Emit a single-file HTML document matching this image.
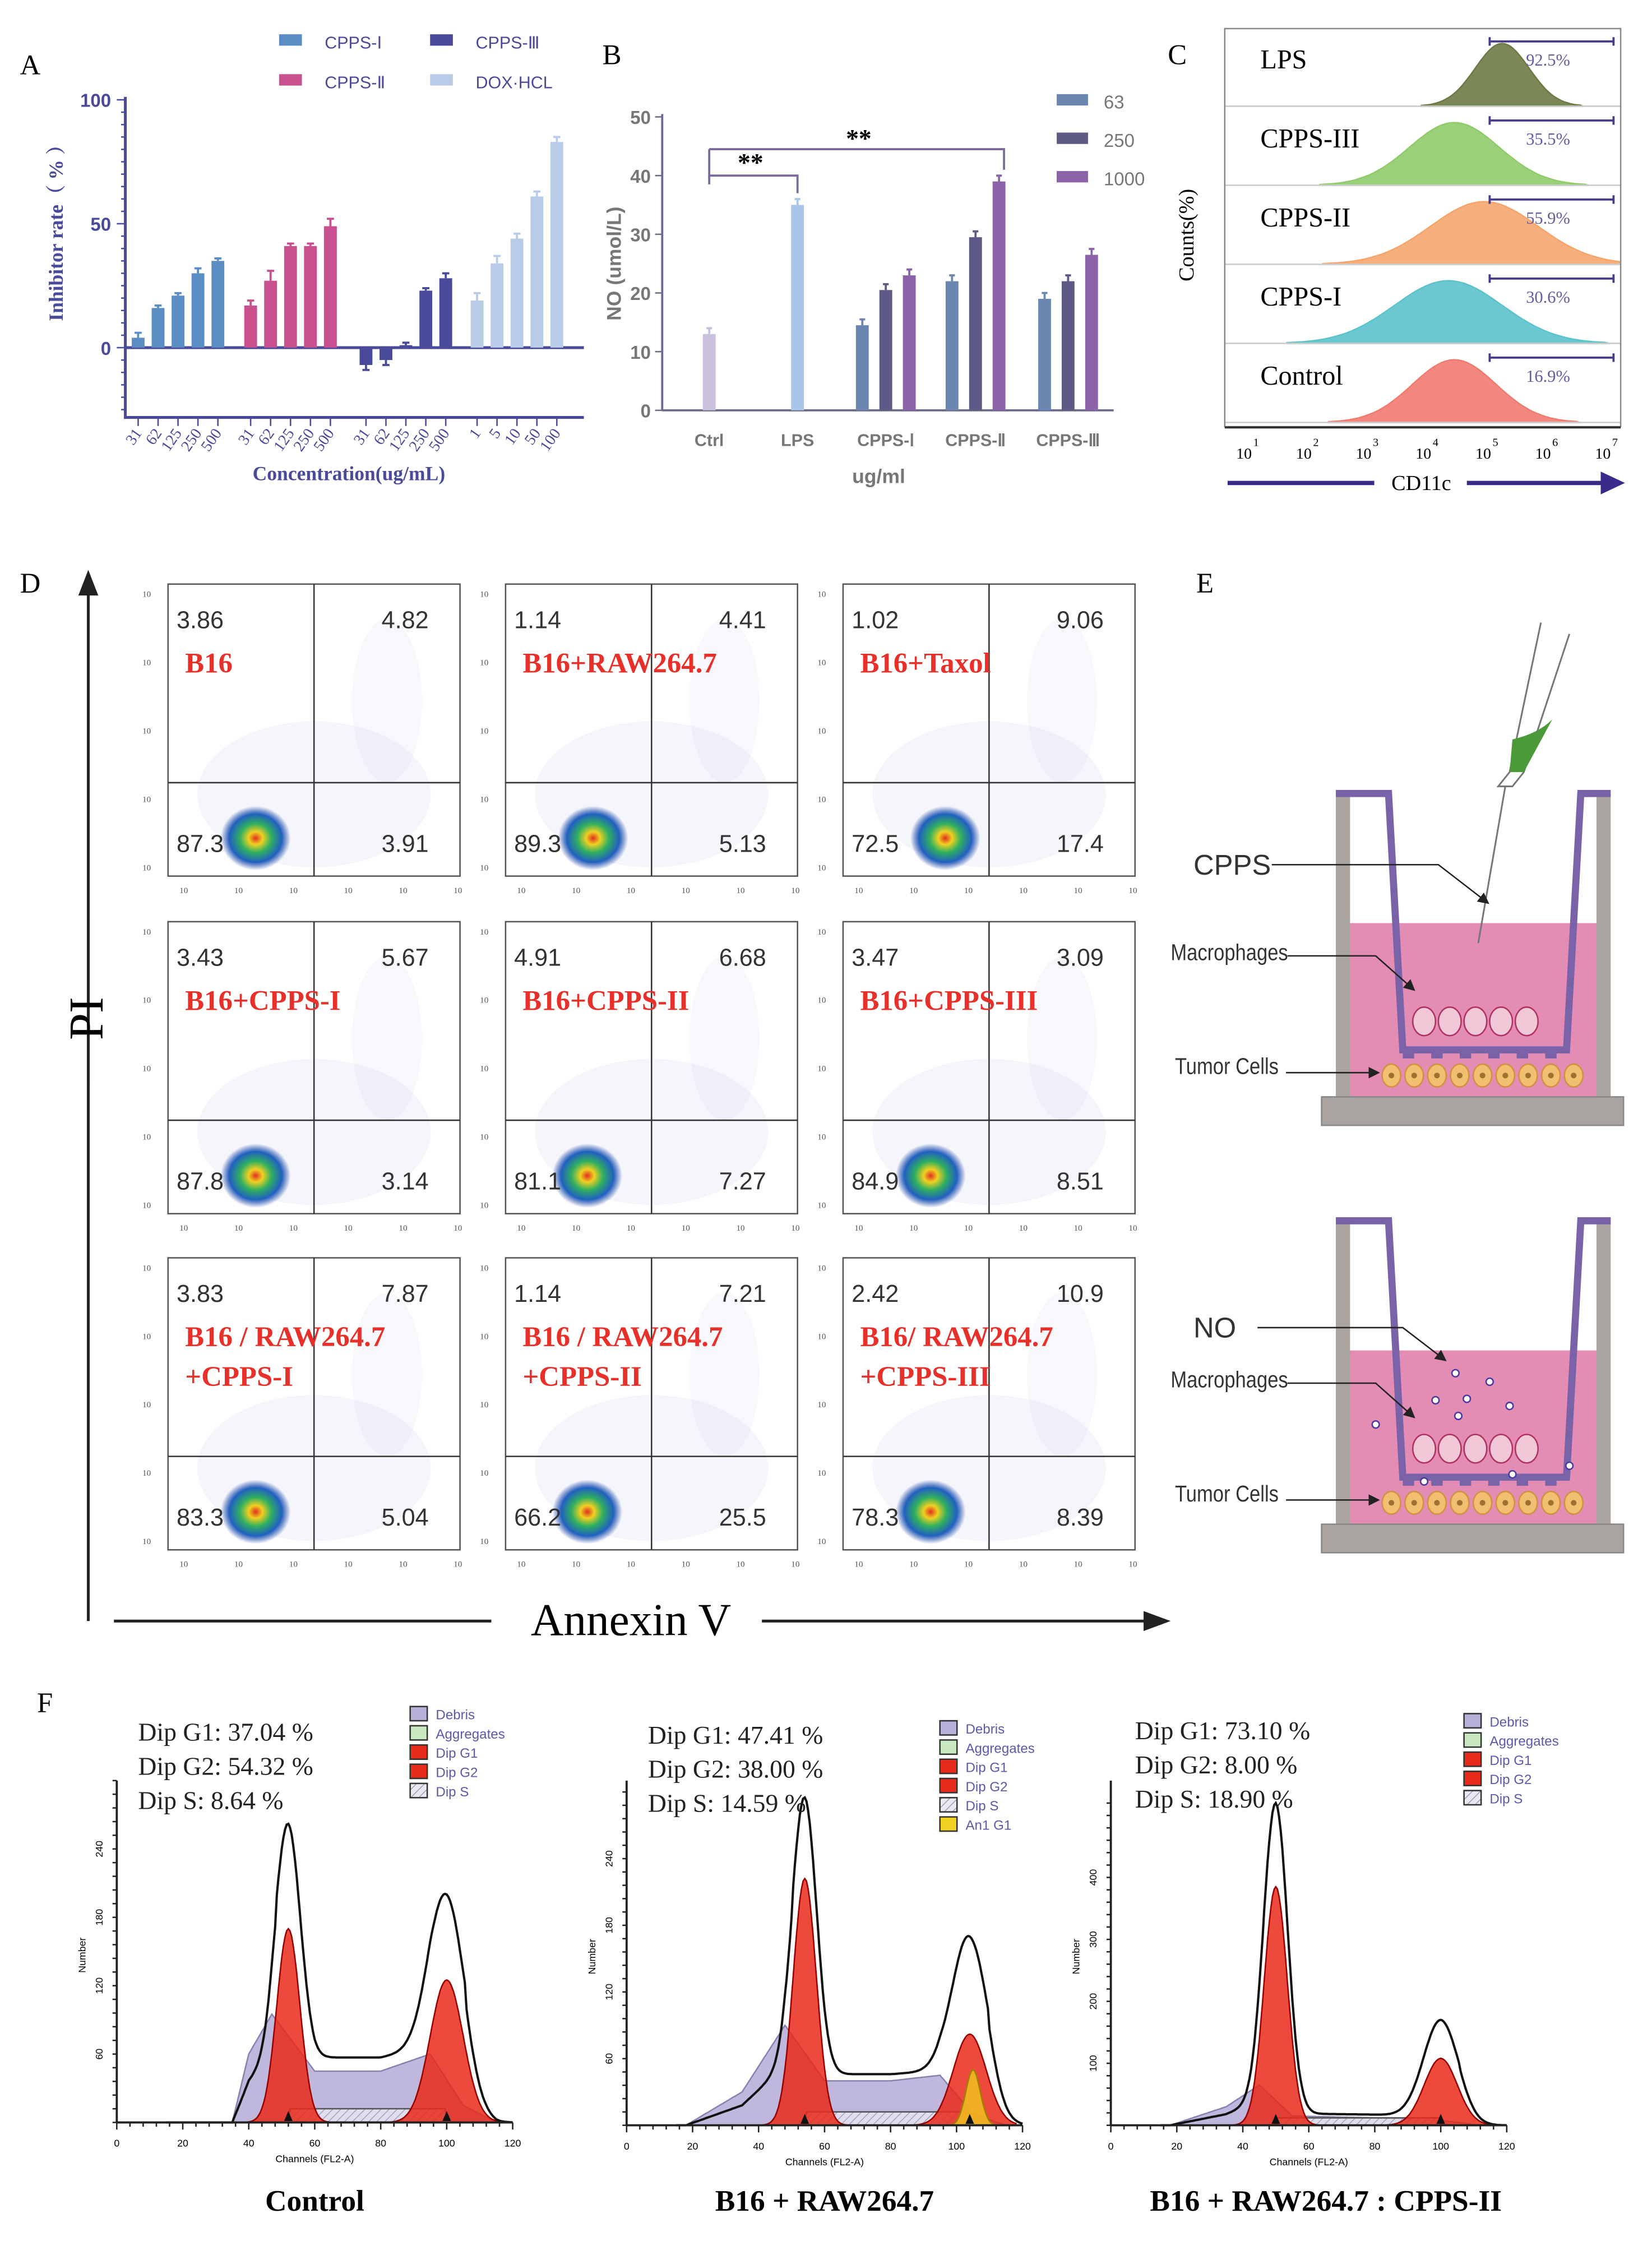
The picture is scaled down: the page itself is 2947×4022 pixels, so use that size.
<!DOCTYPE html>
<html><head><meta charset="utf-8"><style>
html,body{margin:0;padding:0;background:#fff}
svg{display:block}
text{font-family:"Liberation Serif",serif}
.sans{font-family:"Liberation Sans",sans-serif}
</style></head><body>
<svg id="fig" xmlns="http://www.w3.org/2000/svg" width="2947" height="4022" viewBox="0 0 1160 1583">
<defs>
<radialGradient id="blob" cx="50%" cy="50%" r="50%">
<stop offset="0" stop-color="#e03020"/><stop offset="0.2" stop-color="#f0d020"/><stop offset="0.45" stop-color="#30b060"/><stop offset="0.75" stop-color="#2060c0"/><stop offset="1" stop-color="#2040a0" stop-opacity="0"/>
</radialGradient>
<pattern id="hatch" width="4" height="4" patternUnits="userSpaceOnUse" patternTransform="rotate(45)"><rect width="4" height="4" fill="#e8e8f0"/><line x1="0" y1="0" x2="0" y2="4" stroke="#9090b0" stroke-width="1"/></pattern>
<marker id="arr" markerWidth="8" markerHeight="8" refX="7" refY="4" orient="auto"><path d="M0,0 L8,4 L0,8 z" fill="#222"/></marker>
<clipPath id="cclip"><rect x="860" y="20" width="278" height="280"/></clipPath>
</defs>
</svg>
<script>
const NS="http://www.w3.org/2000/svg";
const svg=document.getElementById('fig');
function mk(tag,attrs,parent){const e=document.createElementNS(NS,tag);for(const k in attrs)e.setAttribute(k,attrs[k]);(parent||svg).appendChild(e);return e;}
function tx(x,y,s,attrs,parent){const e=mk('text',Object.assign({x:x,y:y},attrs),parent);e.textContent=s;return e;}

/* ===== Panel A data ===== */
const aGroups=["CPPS-Ⅰ","CPPS-Ⅱ","CPPS-Ⅲ","DOX·HCL"];
const aColors=["#5b8cc4","#c9508f","#4a4a9a","#b8cce8"];
const aCpps1=[4,16,21,30,35];
const aCpps2=[17,27,41,41,49];
const aCpps3=[-7,-5,1,23,28];
const aDox=[19,34,44,61,83];
const aErr=[[2,1,1,2,1],[2,4,1,1,3],[2,2,1,1,2],[3,3,2,2,2]];
const aTicksCpps=["31","62","125","250","500"];
const aTicksDox=["1","5","10","50","100"];
const aYTicks=[0,50,100];
/* ===== Panel B data ===== */
const bCats=["Ctrl","LPS","CPPS-Ⅰ","CPPS-Ⅱ","CPPS-Ⅲ"];
const bCtrl=[13];
const bLps=[35];
const b63=[14.5,22,19];
const b250=[20.5,29.5,22];
const b1000=[23,39,26.5];
const bYTicks=[0,10,20,30,40,50];
const bSeries=["63","250","1000"];
/* ===== Panel C data ===== */
const cLabels=["LPS","CPPS-III","CPPS-II","CPPS-I","Control"];
const cPerc=["92.5%","35.5%","55.9%","30.6%","16.9%"];
const cPeak=[5.4,4.6,5.1,4.5,4.6];
const cWidth=[0.45,0.75,0.9,0.9,0.7];
/* ===== Panel D data ===== */
const dLabels=[["B16"],["B16+RAW264.7"],["B16+Taxol"],["B16+CPPS-I"],["B16+CPPS-II"],["B16+CPPS-III"],["B16 / RAW264.7","+CPPS-I"],["B16 / RAW264.7","+CPPS-II"],["B16/ RAW264.7","+CPPS-III"]];
const dUL=["3.86","1.14","1.02","3.43","4.91","3.47","3.83","1.14","2.42"];
const dUR=["4.82","4.41","9.06","5.67","6.68","3.09","7.87","7.21","10.9"];
const dLL=["87.3","89.3","72.5","87.8","81.1","84.9","83.3","66.2","78.3"];
const dLR=["3.91","5.13","17.4","3.14","7.27","8.51","5.04","25.5","8.39"];
/* ===== Panel F data ===== */
const fTitles=["Control","B16 + RAW264.7","B16 + RAW264.7 : CPPS-II"];
const fG1=["37.04","47.41","73.10"];
const fG2=["54.32","38.00","8.00"];
const fS=["8.64","14.59","18.90"];
const fG1H=[170,222,385];
const fG2H=[125,82,108];
const fTotG1=[262,295,520];
const fTotG2=[200,170,170];
const fDebris=[[[35,0],[40,60],[47,95],[60,45],[80,45],[95,60],[105,15],[115,0]],[[18,0],[35,30],[48,90],[60,40],[80,40],[95,45],[105,10],[115,0]],[[18,0],[35,30],[45,65],[55,15],[80,12],[100,8],[112,0]]];
const fYTicks=[[60,120,180,240],[60,120,180,240],[100,200,300,400]];
const fYMax=[300,300,520];

/* ===== Panel A ===== */
(function(){
const g=mk('g',{});
const L=tx(14,52,"A",{'font-size':20},g);
const y0=244,ppu=1.74,ax=88;
const Y=v=>y0-v*ppu;
mk('line',{x1:ax,y1:68,x2:ax,y2:294,stroke:'#4a4a9a','stroke-width':2},g);
for(let v=-25;v<=100;v+=5){mk('line',{x1:ax-(v%50==0?6:3),y1:Y(v),x2:ax,y2:Y(v),stroke:'#4a4a9a','stroke-width':1},g);}
aYTicks.forEach(v=>{const t=tx(ax-10,Y(v)+5,String(v),{'font-size':13,'text-anchor':'end',fill:'#4a4a9a','font-weight':'bold',class:'sans'},g);});
mk('line',{x1:ax,y1:y0,x2:410,y2:y0,stroke:'#4a4a9a','stroke-width':2},g);
mk('line',{x1:ax,y1:293,x2:410,y2:293,stroke:'#4a4a9a','stroke-width':2},g);
const series=[aCpps1,aCpps2,aCpps3,aDox];
const starts=[97,176,257,335];
series.forEach((arr,si)=>{arr.forEach((v,i)=>{const cx=starts[si]+i*14;
const r=mk('rect',{x:cx-4.5,y:Math.min(Y(v),y0),width:9,height:Math.abs(Y(v)-y0),fill:aColors[si]},g);

const ey=v>=0?Y(v+aErr[si][i]):Y(v-aErr[si][i]);
mk('line',{x1:cx,y1:Y(v),x2:cx,y2:ey,stroke:aColors[si],'stroke-width':1.5},g);
mk('line',{x1:cx-2.5,y1:ey,x2:cx+2.5,y2:ey,stroke:aColors[si],'stroke-width':1.5},g);
mk('line',{x1:cx,y1:293,x2:cx,y2:299,stroke:'#4a4a9a','stroke-width':1},g);
const lbl=(si==3?aTicksDox:aTicksCpps)[i];
const t=tx(cx+3,304,lbl,{'font-size':11,'text-anchor':'end',fill:'#4a4a9a',transform:`rotate(-55 ${cx+3} 304)`},g);
});});
const yl=tx(44,160,"Inhibitor rate（ % ）",{'font-size':14,'font-weight':'bold',fill:'#4a4a9a','text-anchor':'middle',transform:'rotate(-90 44 160)',style:'font-family:"Liberation Serif","Noto Serif CJK SC",serif'},g);
const xl=tx(245,337,"Concentration(ug/mL)",{'font-size':14,'font-weight':'bold',fill:'#4a4a9a','text-anchor':'middle'},g);
const lp=[[196,30],[196,58],[302,30],[302,58]];const ln=["CPPS-Ⅰ","CPPS-Ⅱ","CPPS-Ⅲ","DOX·HCL"];const lc=[aColors[0],aColors[1],aColors[2],aColors[3]];
lp.forEach((p,i)=>{const e=mk('rect',{x:p[0],y:p[1]-6,width:16,height:8,fill:lc[i]},g);
const t=tx(p[0]+32,p[1]+4,ln[i],{'font-size':12,fill:'#4a4a9a',class:'sans'},g);});
})();

/* ===== Panel B ===== */
(function(){
const g=mk('g',{});
const L=tx(423,45,"B",{'font-size':20},g);
const y0=288,ppu=4.12,ax=465;const Y=v=>y0-v*ppu;
mk('line',{x1:ax,y1:80,x2:ax,y2:y0,stroke:'#6a6a8a','stroke-width':1.5},g);
mk('line',{x1:ax,y1:y0,x2:782,y2:y0,stroke:'#6a6a8a','stroke-width':1.5},g);
bYTicks.forEach(v=>{mk('line',{x1:ax-5,y1:Y(v),x2:ax,y2:Y(v),stroke:'#6a6a8a'},g);const t=tx(ax-8,Y(v)+5,String(v),{'font-size':13,'text-anchor':'end',fill:'#777',class:'sans','font-weight':'bold'},g);});
const centers=[498,560,622,685,750];
bCats.forEach((c,i)=>{const t=tx(centers[i],313,c,{'font-size':12,'text-anchor':'middle',fill:'#777',class:'sans','font-weight':'bold'},g);});
function bar(cx,v,col,name){const r=mk('rect',{x:cx-4.5,y:Y(v),width:9,height:y0-Y(v),fill:col},g);mk('line',{x1:cx,y1:Y(v),x2:cx,y2:Y(v+1),stroke:col,'stroke-width':1.5},g);mk('line',{x1:cx-2,y1:Y(v+1),x2:cx+2,y2:Y(v+1),stroke:col,'stroke-width':1.5},g);}
bar(centers[0],bCtrl[0],'#c9c0dc','b-bar-ctrl');
bar(centers[1],bLps[0],'#a9c6e8','b-bar-lps');
const sc=['#6b86b0','#5d5a85','#8c63a8'];
[b63,b250,b1000].forEach((arr,si)=>arr.forEach((v,i)=>bar(centers[i+2]+(si-1)*16.5,v,sc[si],'b-bar-'+bSeries[si]+'-'+i)));
mk('path',{d:`M498,${Y(40)} V${Y(39.5)} M498,${Y(40)} H560 V${Y(37)}`,fill:'none',stroke:'#7a6a9a','stroke-width':1.5},g);
mk('path',{d:`M498,${Y(44.5)} H705 V${Y(41)}`,fill:'none',stroke:'#7a6a9a','stroke-width':1.5},g);
mk('line',{x1:498,y1:Y(44.5),x2:498,y2:Y(38.5),stroke:'#7a6a9a','stroke-width':1.5},g);
const s1=tx(527,120,"**",{'font-size':18,'text-anchor':'middle','font-weight':'bold'},g);
const s2=tx(603,103,"**",{'font-size':18,'text-anchor':'middle','font-weight':'bold'},g);
const yl=tx(436,185,"NO (umol/L)",{'font-size':14,'text-anchor':'middle',fill:'#777',class:'sans','font-weight':'bold',transform:'rotate(-90 436 185)'},g);
const xl=tx(617,339,"ug/ml",{'font-size':14,'text-anchor':'middle',fill:'#777',class:'sans','font-weight':'bold'},g);
bSeries.forEach((s,i)=>{const r=mk('rect',{x:742,y:66+i*27,width:22,height:8,fill:sc[i]},g);const t=tx(775,76+i*27,s,{'font-size':13,fill:'#777',class:'sans'},g);});
})();

/* ===== Panel C ===== */
(function(){
const g=mk('g',{});
const L=tx(820,45,"C",{'font-size':20},g);
const x0=860,x1=1138,top=22,rowH=55.5;
const cols=['#6b7a45','#8fcb6a','#f5a56c','#5bc2cc','#ef7a70'];
const X=lg=>x0+10+(lg-1)*((1125-873)/6);
const hg=mk('g',{'clip-path':'url(#cclip)'},g);
cLabels.forEach((lab,i)=>{const ry=top+i*rowH,base=ry+rowH-3;
mk('line',{x1:x0,y1:base,x2:x1,y2:base,stroke:'#ccc','stroke-width':1},g);
let d=`M${X(cPeak[i]-3*cWidth[i])},${base}`;
for(let k=-3;k<=3;k+=0.1){const lg=cPeak[i]+k*cWidth[i];d+=` L${X(lg).toFixed(1)},${(base-44*Math.exp(-k*k/2)).toFixed(1)}`;}
d+=` L${X(cPeak[i]+3*cWidth[i])},${base} Z`;
const p=mk('path',{d:d,fill:cols[i],stroke:cols[i],'fill-opacity':0.9},hg);
const t=tx(885,ry+26,lab,{'font-size':19},g);
mk('path',{d:`M1046,${ry+4} v6 M1046,${ry+7} H1133 M1133,${ry+4} v6`,stroke:'#4a3a8a','stroke-width':1.5,fill:'none'},g);
const pt=tx(1087,ry+24,cPerc[i],{'font-size':12,fill:'#6a5aa0','text-anchor':'middle'},g);
});
mk('rect',{x:x0,y:top-2,width:x1-x0,height:rowH*5+2,fill:'none',stroke:'#888','stroke-width':1},g);
mk('line',{x1:x0,y1:300,x2:x1,y2:300,stroke:'#333','stroke-width':1.5},g);
for(let k=1;k<=7;k++){const t=tx(X(k)-2,322,"10",{'font-size':11},g);tx(X(k)+10,313,String(k),{'font-size':8},g);}
mk('line',{x1:862,y1:339,x2:965,y2:339,stroke:'#3a2a8a','stroke-width':3},g);
mk('line',{x1:1030,y1:339,x2:1128,y2:339,stroke:'#3a2a8a','stroke-width':3},g);
mk('path',{d:'M1124,331 L1141,339 L1124,347 Z',fill:'#3a2a8a'},g);
const xl=tx(998,344,"CD11c",{'font-size':15,'text-anchor':'middle'},g);
const yl=tx(838,165,"Counts(%)",{'font-size':15,'text-anchor':'middle',transform:'rotate(-90 838 165)'},g);
})();

/* ===== Panel D ===== */
(function(){
const g=mk('g',{});
const L=tx(14,416,"D",{'font-size':20},g);
mk('line',{x1:62,y1:1138,x2:62,y2:645,stroke:'#222','stroke-width':2},g);
mk('line',{x1:62,y1:760,x2:62,y2:415,stroke:'#222','stroke-width':2},g);
mk('path',{d:'M55,418 L62,400 L69,418 Z',fill:'#222'},g);
const pi=tx(72,715,"PI",{'font-size':34,'text-anchor':'middle',transform:'rotate(-90 72 715)'},g);
mk('line',{x1:80,y1:1138,x2:345,y2:1138,stroke:'#222','stroke-width':2},g);
mk('line',{x1:535,y1:1138,x2:805,y2:1138,stroke:'#222','stroke-width':2},g);
mk('path',{d:'M803,1131 L822,1138 L803,1145 Z',fill:'#222'},g);
const an=tx(443,1148,"Annexin V",{'font-size':32,'text-anchor':'middle'},g);
const colX=[118,355,592],rowY=[410,647,883],W=205,H=205;
const blobX=[0.3,0.3,0.35,0.3,0.28,0.3,0.3,0.28,0.3];
for(let i=0;i<9;i++){const x=colX[i%3],y=rowY[Math.floor(i/3)];
const pg=mk('g',{},g);
mk('rect',{x:x,y:y,width:W,height:H,fill:'#fff',stroke:'#555','stroke-width':1},pg);
mk('ellipse',{cx:x+W*0.5,cy:y+H*0.72,rx:W*0.4,ry:H*0.25,fill:'#c8cce8','fill-opacity':0.18},pg);
mk('ellipse',{cx:x+W*0.75,cy:y+H*0.4,rx:W*0.12,ry:H*0.28,fill:'#c8cce8','fill-opacity':0.15},pg);
mk('ellipse',{cx:x+W*blobX[i],cy:y+H*0.87,rx:W*0.12,ry:H*0.11,fill:'url(#blob)'},pg);
mk('line',{x1:x+W*0.5,y1:y,x2:x+W*0.5,y2:y+H,stroke:'#333','stroke-width':1},pg);
mk('line',{x1:x,y1:y+H*0.68,x2:x+W,y2:y+H*0.68,stroke:'#333','stroke-width':1},pg);
const ns=[[x+6,y+31,dUL[i],'start'],[x+W-22,y+31,dUR[i],'end'],[x+6,y+188,dLL[i],'start'],[x+W-22,y+188,dLR[i],'end']];
ns.forEach(n=>{const t=tx(n[0],n[1],n[2],{'font-size':17,'text-anchor':n[3],fill:'#333',class:'sans'},pg);});
dLabels[i].forEach((s,k)=>{const t=tx(x+12,y+62+k*28,s,{'font-size':20,'font-weight':'bold',fill:'#e8302a'},pg);});
for(let k=0;k<=5;k++){tx(x+8+k*38.5,y+H+12,"10",{'font-size':6,fill:'#555'},pg);}
for(let k=0;k<=4;k++){tx(x-18,y+H-4-k*48,"10",{'font-size':6,fill:'#555'},pg);}
}
})();

/* ===== Panel E ===== */
(function(){
const g=mk('g',{});
const L=tx(840,416,"E",{'font-size':20},g);
function well(oy,name,isNO){const w=mk('g',{},g);
mk('rect',{x:940,y:oy+91,width:190,height:122,fill:'#e38cb4'},w);
mk('rect',{x:938,y:oy,width:10,height:214,fill:'#a9a4a0'},w);
mk('rect',{x:1121,y:oy,width:10,height:214,fill:'#a9a4a0'},w);
mk('rect',{x:928,y:oy+213,width:212,height:20,fill:'#a9a4a0',stroke:'#888'},w);
mk('path',{d:`M938,${oy} H975 L985,${oy+180} H1100 L1110,${oy} H1131`,fill:'none',stroke:'#7a62a8','stroke-width':5},w);
for(let k=0;k<6;k++)mk('rect',{x:985+k*20,y:oy+180,width:8,height:6,fill:'#7a62a8'},w);
for(let k=0;k<5;k++){mk('ellipse',{cx:1000+k*18,cy:oy+160,rx:8,ry:10,fill:'#f0c8d8',stroke:'#b03060','stroke-width':1},w);}
for(let k=0;k<9;k++){mk('ellipse',{cx:977+k*16,cy:oy+198,rx:6.5,ry:8,fill:'#f0c070',stroke:'#d09040'},w);mk('circle',{cx:977+k*16,cy:oy+198,r:2,fill:'#a07030'},w);}
const t1=tx(822,oy+117,"Macrophages",{'font-size':16,class:'sans',fill:'#333',transform:`scale(0.85,1) translate(${822*0.1765},0)`},w);
mk('path',{d:`M904,${oy+114} H966 L993,${oy+138}`,fill:'none',stroke:'#222','stroke-width':1,'marker-end':'url(#arr)'},w);
const t2=tx(825,oy+197,"Tumor Cells",{'font-size':16,class:'sans',fill:'#333',transform:`scale(0.85,1) translate(${825*0.1765},0)`},w);
mk('path',{d:`M903,${oy+196} H968`,fill:'none',stroke:'#222','stroke-width':1,'marker-end':'url(#arr)'},w);
if(!isNO){
const pp=mk('g',{},w);
mk('path',{d:`M1082,${oy-120} L1060,${oy-15} L1052,${oy-5} L1062,${oy-5} L1070,${oy-15} L1102,${oy-112}`,fill:'none',stroke:'#777','stroke-width':1.2},pp);
mk('path',{d:`M1062,${oy-38} Q1080,${oy-42} 1090,${oy-52} L1070,${oy-15} L1060,${oy-15} Z`,fill:'#4a9a3a'},pp);
mk('line',{x1:1057,y1:oy-5,x2:1038,y2:oy+105,stroke:'#777','stroke-width':1.2},pp);
const t=tx(838,oy+57,"CPPS",{'font-size':20,class:'sans',fill:'#333'},w);
mk('path',{d:`M893,${oy+50} H1010 L1045,${oy+77}`,fill:'none',stroke:'#222','stroke-width':1,'marker-end':'url(#arr)'},w);}
else{const t=tx(838,oy+82,"NO",{'font-size':20,class:'sans',fill:'#333'},w);
mk('path',{d:`M883,${oy+75} H985 L1015,${oy+98}`,fill:'none',stroke:'#222','stroke-width':1,'marker-end':'url(#arr)'},w);
[[1022,107],[1046,113],[1030,125],[1008,126],[1024,137],[966,143],[1060,130],[1102,172],[1062,178],[1000,183]].forEach(p=>mk('circle',{cx:p[0],cy:oy+p[1],r:2.5,fill:'#fff',stroke:'#4a3aa0','stroke-width':1},w));}
}
well(557,'e-well-cpps',false);
well(857,'e-well-no',true);
})();

/* ===== Panel F ===== */
(function(){
const g=mk('g',{});
const L=tx(26,1202,"F",{'font-size':20},g);
const plots=[{x0:82,x1:360,yb:1490,yt:1250,tx:97,ty:1222,lx:288,ly:1206},{x0:440,x1:718,yb:1492,yt:1250,tx:455,ty:1224,lx:660,ly:1216},{x0:780,x1:1058,yb:1492,yt:1250,tx:797,ty:1221,lx:1028,ly:1211}];
const pyScale=[0.8,0.78,0.435];
const g1mu=[52,54,50],g2mu=[100,104,100];
plots.forEach((p,pi)=>{const pg=mk('g',{},g);
const X=c=>p.x0+c*(p.x1-p.x0)/120,Y=v=>p.yb-v*pyScale[pi];
const gauss=(c,mu,h,sd)=>h*Math.exp(-(c-mu)*(c-mu)/(2*sd*sd));
const deb=c=>{const pts=fDebris[pi];if(c<=pts[0][0]||c>=pts[pts.length-1][0])return 0;for(let k=1;k<pts.length;k++){if(c<=pts[k][0]){const a=pts[k-1],b=pts[k];return a[1]+(b[1]-a[1])*(c-a[0])/(b[0]-a[0]);}}return 0;};
function area(fn,fill,op,name,stroke){let d=`M${X(15)},${Y(0)}`;for(let c=15;c<=118;c+=0.5)d+=` L${X(c).toFixed(1)},${Y(fn(c)).toFixed(1)}`;d+=` L${X(118)},${Y(0)} Z`;const e=mk('path',{d:d,fill:fill,'fill-opacity':op,stroke:stroke||'none','stroke-width':1},pg);return e;}
area(deb,'#b8b0d8',0.9,'f-debris','#8880b0');
area(c=>(c>g1mu[pi]&&c<g2mu[pi])?12:0,'url(#hatch)',0.8,'f-dip-s','#555');
area(c=>gauss(c,g1mu[pi],fG1H[pi],3.5),'#e82a1a',0.85,'f-dip-g1','#900');
area(c=>gauss(c,g2mu[pi],fG2H[pi],5),'#e82a1a',0.85,'f-dip-g2','#900');
if(pi==1)area(c=>gauss(c,105,50,2.2),'#f0c020',0.85,'f-an1-g1','#a08000');
const tot=c=>{const s=(c>g1mu[pi]-4&&c<g2mu[pi]+6)?(pi==0?30:pi==1?22:10):0;return deb(c)*0.6+s+gauss(c,g1mu[pi],fTotG1[pi]-deb(g1mu[pi])*0.6-s,3.6)+gauss(c,g2mu[pi],fTotG2[pi]-deb(g2mu[pi])*0.6-s,5.2);};
let d=`M${X(15)},${Y(0)}`;for(let c=15;c<=120;c+=0.5)d+=` L${X(c).toFixed(1)},${Y(Math.max(0,tot(c))).toFixed(1)}`;
const tl=mk('path',{d:d,fill:'none',stroke:'#111','stroke-width':1.6},pg);
mk('line',{x1:p.x0,y1:p.yb,x2:p.x1,y2:p.yb,stroke:'#222','stroke-width':1.5},pg);
mk('line',{x1:p.x0,y1:p.yb,x2:p.x0,y2:p.yt,stroke:'#222','stroke-width':1.5},pg);
for(let c=0;c<=120;c+=4)mk('line',{x1:X(c),y1:p.yb,x2:X(c),y2:p.yb+(c%20==0?5:3),stroke:'#222'},pg);
for(let c=0;c<=120;c+=20){const t=tx(X(c),p.yb+17,String(c),{'font-size':7,'text-anchor':'middle',class:'sans'},pg);}
fYTicks[pi].forEach(v=>{const t=tx(p.x0-10,Y(v),String(v),{'font-size':7,'text-anchor':'middle',class:'sans',transform:`rotate(-90 ${p.x0-10} ${Y(v)})`},pg);});
for(let v=0;v<=fYMax[pi];v+=(pi==2?20:12))mk('line',{x1:p.x0-3,y1:Y(v),x2:p.x0,y2:Y(v),stroke:'#222'},pg);
tx(p.x0-22,(p.yb+p.yt)/2+15,"Number",{'font-size':7,class:'sans',transform:`rotate(-90 ${p.x0-22} ${(p.yb+p.yt)/2+15})`},pg);
tx((p.x0+p.x1)/2,p.yb+28,"Channels (FL2-A)",{'font-size':7,'text-anchor':'middle',class:'sans'},pg);
mk('path',{d:`M${X(g1mu[pi])-3},${p.yb-1} l3,-7 l3,7 Z M${X(g2mu[pi])-3},${p.yb-1} l3,-7 l3,7 Z`,fill:'#111'},pg);
[["Dip G1: ",fG1[pi]],["Dip G2: ",fG2[pi]],["Dip S: ",fS[pi]]].forEach((s,k)=>{const t=tx(p.tx,p.ty+k*24,s[0]+s[1]+" %",{'font-size':18,fill:'#222'},pg);});
const leg=["Debris","Aggregates","Dip G1","Dip G2","Dip S"];if(pi==1)leg.push("An1 G1");
const lf=['#b8b0d8','#c8e8c0','#e82a1a','#e82a1a','url(#hatch)','#f0d020'];
leg.forEach((s,k)=>{const r=mk('rect',{x:p.lx,y:p.ly+k*13.5-8,width:12,height:10,fill:lf[k],stroke:'#333'},pg);const t=tx(p.lx+18,p.ly+k*13.5+1,s,{'font-size':9.5,fill:'#5a5aa8',class:'sans'},pg);});
const tt=tx((p.x0+p.x1)/2+(pi==2?12:0),1552,fTitles[pi],{'font-size':21,'font-weight':'bold','text-anchor':'middle'},pg);
});
})();
</script>
</body></html>
